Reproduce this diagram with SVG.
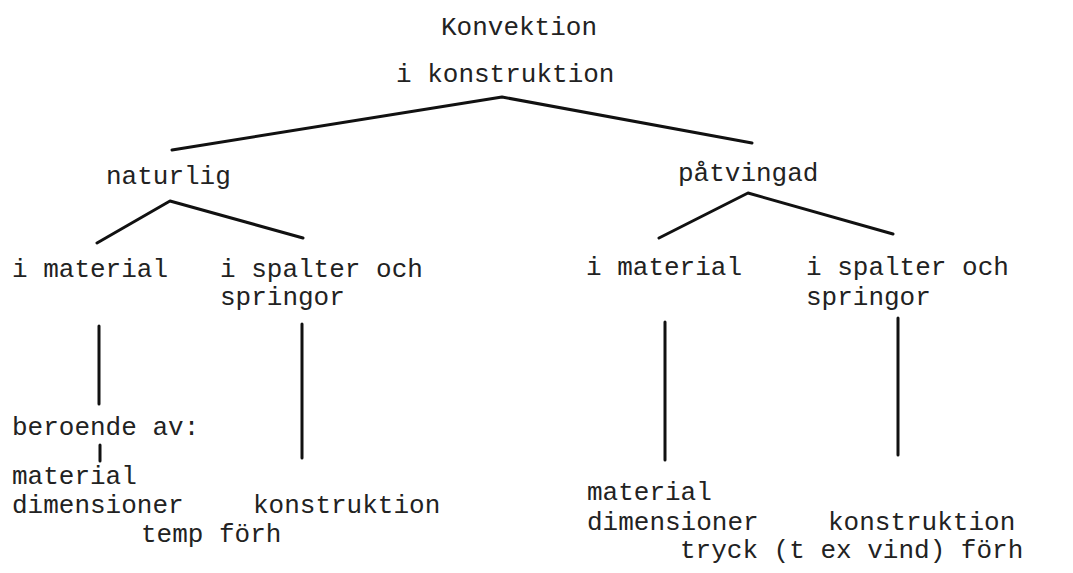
<svg xmlns="http://www.w3.org/2000/svg" width="1073" height="573" viewBox="0 0 1073 573">
<style>
text{font-family:"Liberation Mono","Courier New",monospace;font-size:26px;fill:#222}
.c{stroke:#111;stroke-width:3;fill:none;stroke-linecap:round;stroke-linejoin:round}
</style>
<rect width="1073" height="573" fill="#fff"/>
<g id="connectors">
<polyline class="c" points="172,150 502,97 752,143"/>
<polyline class="c" points="97,243 170,201 303,238"/>
<polyline class="c" points="659,238 748,193 893,234"/>
<line class="c" x1="99" y1="326" x2="99" y2="404"/>
<line class="c" x1="100" y1="445" x2="100" y2="461"/>
<line class="c" x1="302" y1="324" x2="302" y2="458"/>
<line class="c" x1="665" y1="322" x2="665" y2="460"/>
<line class="c" x1="898" y1="318" x2="898" y2="455"/>
</g>
<g id="root"><text x="441" y="35">Konvektion</text><text x="396" y="82">i konstruktion</text></g>
<g id="naturlig"><text x="106" y="184">naturlig</text></g>
<g id="patvingad"><text x="678" y="181">påtvingad</text></g>
<g id="n-material"><text x="12" y="277">i material</text></g>
<g id="n-spalter"><text x="220" y="277">i spalter och</text><text x="220" y="305">springor</text></g>
<g id="p-material"><text x="586" y="275">i material</text></g>
<g id="p-spalter"><text x="806" y="275">i spalter och</text><text x="806" y="305">springor</text></g>
<g id="beroende"><text x="12" y="435">beroende av:</text></g>
<g id="n-leaf"><text x="12" y="484">material</text><text x="12" y="513">dimensioner</text><text x="253" y="513">konstruktion</text><text x="141" y="542">temp förh</text></g>
<g id="p-leaf"><text x="587" y="500">material</text><text x="587" y="530">dimensioner</text><text x="828" y="530">konstruktion</text><text x="680" y="558">tryck (t ex vind) förh</text></g>
</svg>
